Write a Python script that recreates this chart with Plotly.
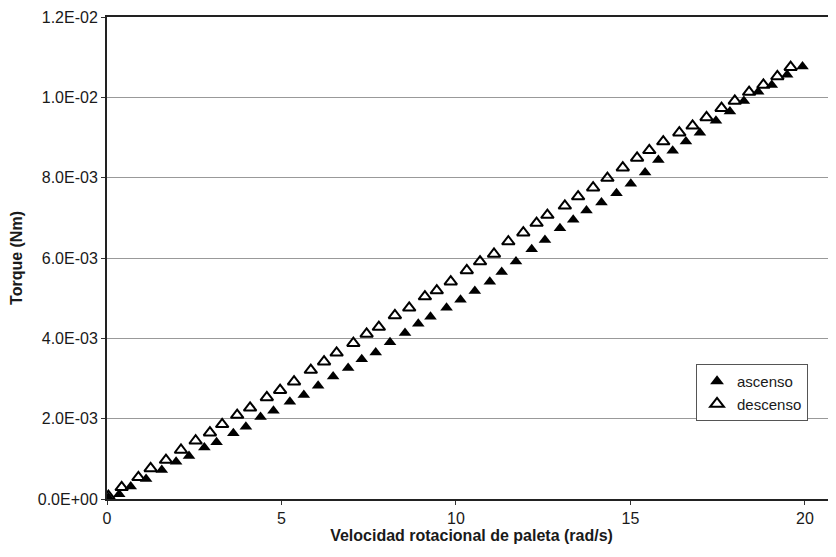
import plotly.graph_objects as go

# Data (torque in units of 1e-3 N·m)
asc_x = [0.04, 0.35, 0.68, 1.12, 1.57, 1.98, 2.35, 2.79, 3.14, 3.62, 3.98, 4.40, 4.77, 5.24,
         5.64, 6.05, 6.48, 6.91, 7.30, 7.70, 8.11, 8.54, 8.92, 9.27, 9.73, 10.13, 10.54, 10.97,
         11.31, 11.72, 12.17, 12.55, 12.98, 13.36, 13.74, 14.17, 14.60, 15.01, 15.42, 15.80,
         16.21, 16.59, 16.99, 17.45, 17.85, 18.25, 18.66, 19.05, 19.49, 19.93]
asc_y_milli = [0.04, 0.12, 0.31, 0.50, 0.72, 0.93, 1.07, 1.28, 1.41, 1.64, 1.80, 2.04, 2.20, 2.42,
               2.59, 2.82, 3.05, 3.26, 3.48, 3.65, 3.90, 4.13, 4.36, 4.54, 4.76, 4.96, 5.18, 5.41,
               5.65, 5.91, 6.22, 6.45, 6.74, 6.95, 7.18, 7.38, 7.61, 7.85, 8.13, 8.44,
               8.67, 8.90, 9.12, 9.42, 9.65, 9.91, 10.14, 10.31, 10.56, 10.77]

desc_x = [0.04, 0.42, 0.90, 1.25, 1.69, 2.12, 2.54, 2.95, 3.30, 3.73, 4.10, 4.58, 4.96, 5.36,
          5.84, 6.22, 6.58, 7.06, 7.44, 7.79, 8.25, 8.66, 9.11, 9.45, 9.85, 10.31, 10.69, 11.09,
          11.50, 11.93, 12.31, 12.62, 13.12, 13.50, 13.93, 14.34, 14.78, 15.19, 15.54, 15.94,
          16.40, 16.78, 17.18, 17.61, 17.99, 18.40, 18.81, 19.21, 19.59]
desc_y_milli = [0.07, 0.29, 0.54, 0.76, 0.97, 1.22, 1.45, 1.65, 1.86, 2.09, 2.27, 2.53, 2.71, 2.92,
                3.21, 3.42, 3.64, 3.88, 4.11, 4.28, 4.57, 4.76, 5.04, 5.19, 5.41, 5.69, 5.91, 6.10,
                6.41, 6.63, 6.87, 7.07, 7.30, 7.53, 7.75, 7.99, 8.25, 8.49, 8.68, 8.90,
                9.12, 9.29, 9.50, 9.73, 9.91, 10.13, 10.31, 10.52, 10.75]

y_tick_vals = [0.0, 0.002, 0.004, 0.006, 0.008, 0.010, 0.012]
y_tick_text = ["0.0E+00", "2.0E-03", "4.0E-03", "6.0E-03", "8.0E-03", "1.0E-02", "1.2E-02"]
x_tick_vals = [0, 5, 10, 15, 20]

asc_y = [v * 1e-3 for v in asc_y_milli]
desc_y = [v * 1e-3 for v in desc_y_milli]

FONT = "Liberation Sans, Arial, sans-serif"
INK = "#1a1a1a"

fig = go.Figure()
fig.add_trace(go.Scatter(
    x=asc_x, y=asc_y, mode="markers", name="ascenso",
    marker=dict(symbol="triangle-up", size=11, color="black"),
))
fig.add_trace(go.Scatter(
    x=desc_x, y=desc_y, mode="markers", name="descenso",
    marker=dict(symbol="triangle-up-open", size=11, color="black",
                line=dict(width=2, color="black")),
))

# the page body adds an 8 px offset; size and margins compensate for it
fig.update_layout(
    width=828, height=541,
    margin=dict(l=99, r=0, t=9, b=50, autoexpand=False),
    paper_bgcolor="white", plot_bgcolor="white",
    font=dict(family=FONT, size=15, color=INK),
    showlegend=True,
    legend=dict(
        x=0.808, y=0.28, xanchor="left", yanchor="top",
        bgcolor="white", bordercolor="#555", borderwidth=1,
        font=dict(family=FONT, size=15, color=INK),
        tracegroupgap=0, itemsizing="constant",
    ),
    xaxis=dict(
        range=[0, 20.89],
        tickvals=x_tick_vals,
        ticks="outside", ticklen=4, tickcolor="#333",
        showline=True, linecolor="#222", linewidth=2, mirror=True,
        showgrid=False, zeroline=False, automargin=False,
        tickfont=dict(family=FONT, size=16, color=INK),
        title=dict(text="<b>Velocidad rotacional de paleta (rad/s)</b>",
                   font=dict(family=FONT, size=16, color=INK), standoff=2),
    ),
    yaxis=dict(
        range=[0, 0.012],
        tickvals=y_tick_vals, ticktext=y_tick_text,
        ticks="outside", ticklen=4, tickcolor="#333",
        showline=True, linecolor="#222", linewidth=2,
        showgrid=True, gridcolor="#999", gridwidth=1,
        zeroline=False, automargin=False,
        tickfont=dict(family=FONT, size=16, color=INK),
        title=dict(text="<b>Torque (Nm)</b>",
                   font=dict(family=FONT, size=16, color=INK), standoff=14),
    ),
)

fig.write_html("out.html")
